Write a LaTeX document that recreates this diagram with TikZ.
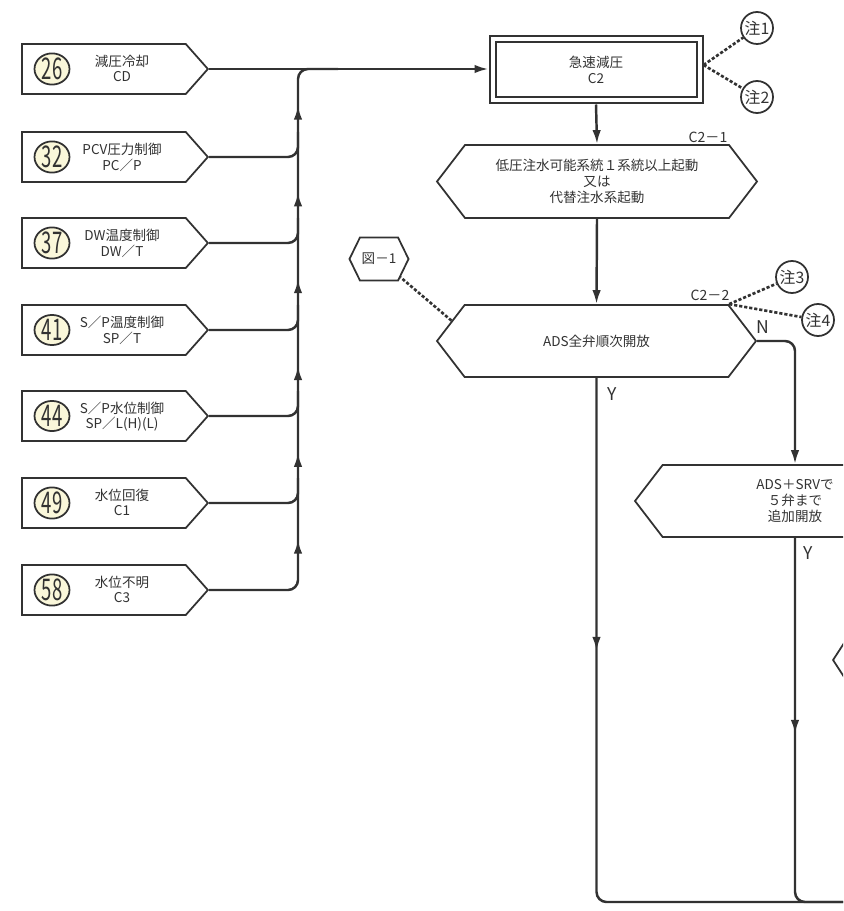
\documentclass[tikz,border=0pt]{standalone}
\usepackage{fontspec}
\setmainfont{Noto Sans CJK JP}
\newfontfamily\numfont[FakeStretch=0.62]{Noto Sans CJK JP}
\usetikzlibrary{positioning,arrows.meta,shapes.symbols,shapes.geometric,decorations.markings,calc}

\definecolor{ink}{RGB}{50,50,50}
\definecolor{numfill}{RGB}{250,247,218}

\tikzset{box/.style={draw=ink,text=ink,line width=1pt,font=\fontsize{7.7}{9.3}\selectfont,align=center}}
\tikzset{entry/.style={box,shape=signal,signal to=east,signal pointer angle=97,minimum width=37.2mm,minimum height=10mm,anchor=west}}
\tikzset{label/.style={text=ink,font=\fontsize{7.7}{8}\selectfont,inner sep=0pt}}
\tikzset{cond/.style={box,shape=signal,signal to=east and west,signal pointer angle=105}}
\tikzset{num/.style={ellipse,draw=ink,text=ink,line width=1pt,fill=numfill,minimum width=7mm,minimum height=6mm,inner sep=0pt,font=\numfont\fontsize{17}{17}\selectfont}}
\tikzset{note/.style={circle,draw=ink,text=ink,line width=1pt,fill=white,minimum size=6.4mm,inner sep=0pt,font=\fontsize{9}{9}\selectfont}}
\tikzset{flow/.style={color=ink,line width=1.4pt,rounded corners=2mm}}
\tikzset{noteline/.style={draw=ink,line width=1.5pt,dash pattern=on 1.8pt off 1.1pt}}
\tikzset{tag/.style={text=ink,font=\fontsize{8}{8}\selectfont}}
\tikzset{yn/.style={text=ink,font=\fontsize{10}{10}\selectfont}}
\tikzset{tip/.style={-{Latex[length=2.8mm,width=1.7mm]}}}
\tikzset{arrowat/.style={postaction={decorate},decoration={markings,mark=at position #1 with {\arrow{Latex[length=2.8mm,width=1.7mm]}}}}}

\begin{document}
\begin{tikzpicture}[x=0.2mm,y=-0.2mm]
  \useasboundingbox (0,0) rectangle (843,911);
  \clip (0,0) rectangle (843,911);

  % entry boxes
  \foreach \n/\y/\ja/\en in {26/69/減圧冷却/CD,32/157/PCV圧力制御/PC／P,37/243/DW温度制御/DW／T,41/330/S／P温度制御/SP／T,44/416/S／P水位制御/SP／L(H)(L),49/503/水位回復/C1,58/590/水位不明/C3}{
    \node[entry] (b\n) at (21,\y) {};
    \node[num] (n\n) at (52,\y) {\n};
    \node[label] (t\n) at (122,\y-8) {\ja};
    \node[label] (e\n) at (122,\y+8) {\en};
  }

  % rapid depressurisation
  \node[box,double,double distance=0.8mm,line width=0.4mm,outer sep=0.8mm,minimum width=41.4mm,minimum height=12.2mm] (c2) at (596,70) {急速減圧\\C2};
  \coordinate (bus) at (298,69);
  \draw[flow,tip] (b26.east) -- (c2.west |- b26.east);
  \draw[flow,postaction={decorate},decoration={markings,mark=between positions 27mm and 114mm step 17.36mm with {\arrow{Latex[length=2.8mm,width=1.7mm]}}}]
    (b58.east) -| (bus) -- ++(40,0);
  \foreach \n in {32,37,41,44,49}
    \draw[flow] (b\n.east) -| ([yshift=5mm]bus |- b\n.east);

  \node[note] (z1) at (757,28) {注1};
  \node[note] (z2) at (757,97) {注2};
  \coordinate (c2e) at ([yshift=1mm]c2.east);
  \draw[noteline] (c2e) -- (z1);
  \draw[noteline] (c2e) -- (z2);

  % C2-1
  \node[cond,minimum width=64mm,minimum height=14.6mm] (c21) at (597,181.5) {低圧注水可能系統１系統以上起動\\又は\\代替注水系起動};
  \node[tag] (c21tag) at (708,137) {C2－1};
  \draw[flow,tip] (c2.south) -- (c21.north);

  % C2-2
  \node[cond,minimum width=63.8mm,minimum height=14.4mm] (c22) at (596.5,341) {ADS全弁順次開放};
  \node[tag] (c22tag) at (710,295) {C2－2};
  \draw[flow,tip] (c21.south) -- (c22.north);

  \node[box,shape=signal,signal to=east and west,signal pointer angle=128,minimum width=10.8mm,minimum height=8.6mm,inner sep=1pt] (fig1) at (379,259) {図－1};
  \draw[noteline] (c22.172) -- (fig1);

  \node[note] (z3) at (792,277) {注3};
  \node[note] (z4) at (818,320) {注4};
  \coordinate (c22ne) at ($(c22.east |- c22.north)+(-28,0)$);
  \draw[noteline] (c22ne) -- (z3);
  \draw[noteline] (c22ne) -- (z4);

  % N: add valves
  \node[cond,minimum width=64mm,minimum height=14.4mm] (ads) at (795,501) {ADS＋SRVで\\５弁まで\\追加開放};
  \draw[flow,tip] (c22.east) -| (ads.north);
  \node[yn] (nlab) at (763,327) {N};

  \node[box,shape=signal,signal to=east and west,signal pointer angle=114,minimum width=30mm,minimum height=6.8mm,anchor=west] (nxt) at (832,660) {};

  % Y branches
  \coordinate (out) at (880,902);
  \draw[flow,arrowat=54.6mm] (c22.south) |- (out);
  \draw[flow,arrowat=39.2mm] (ads.south) |- (out);
  \node[yn] (y1) at (612,394) {Y};
  \node[yn] (y2) at (808,553) {Y};
\end{tikzpicture}
\end{document}
